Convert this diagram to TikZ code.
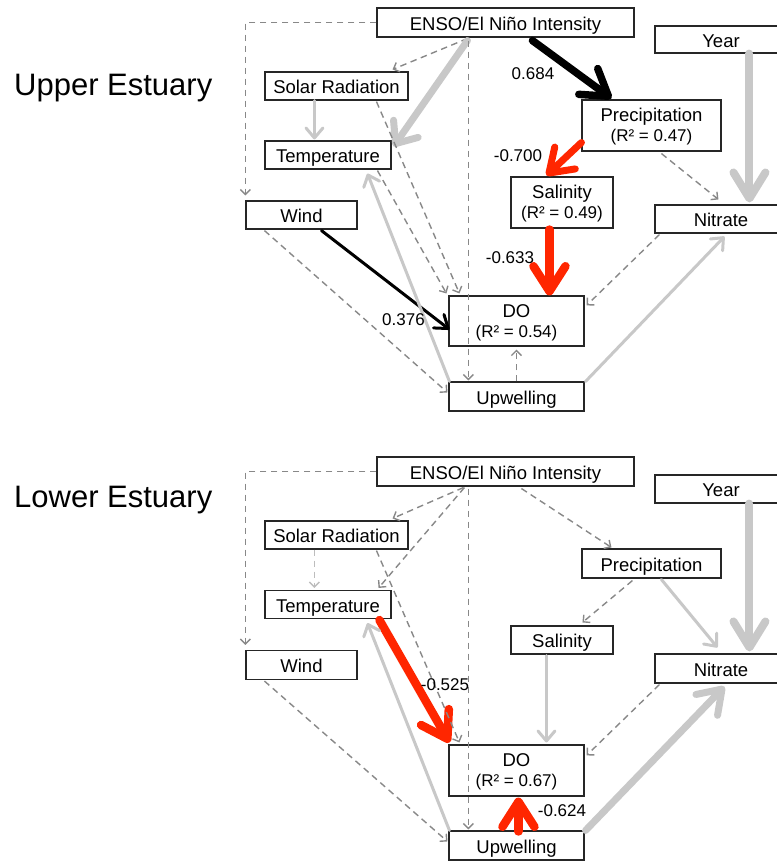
\documentclass[tikz,border=0pt]{standalone}
\usepackage{fontspec}
\setmainfont{Liberation Sans}
\usetikzlibrary{arrows.meta,calc}
\definecolor{dgray}{HTML}{888888}
\definecolor{lgray}{HTML}{C8C8C8}
\definecolor{vlgray}{HTML}{BDBDBD}
\definecolor{pred}{HTML}{FF2600}
\tikzset{
  boxbase/.style={draw=black!85, line width=1.1pt, rectangle, inner sep=0pt, align=center,
              font=\fontsize{18.5}{20}\selectfont},
  box/.style={boxbase, text height=15.6pt, text depth=0pt},
  boxtwo/.style={boxbase},
  lbl/.style={inner sep=0pt, font=\fontsize{17}{20}\selectfont},
  ttl/.style={inner sep=0pt, anchor=base west, font=\fontsize{31}{36}\selectfont},
  dsh/.style={draw=dgray, line width=1.4pt, dash pattern=on 6.5pt off 4.5pt,
              -{Straight Barb[length=5pt,width=10pt]}},
  dshl/.style={dsh, draw=vlgray},
  gthin/.style={draw=lgray, line width=3pt, line cap=round,
              -{Straight Barb[round,length=10pt,width=17pt]}},
  gthick/.style={draw=lgray, line width=7pt, line cap=round,
              -{Straight Barb[round,length=18pt,width=30pt]}},
  gthickb/.style={draw=lgray, line width=7pt, line cap=round,
              -{Straight Barb[round,length=22pt,width=30pt]}},
  gyear/.style={draw=lgray, line width=8pt, line cap=round,
              -{Straight Barb[round,length=26pt,width=32pt]}},
  bthick/.style={draw=black, line width=7.5pt, line cap=round,
              -{Straight Barb[round,length=25pt,width=32pt]}},
  bthin/.style={draw=black, line width=3pt, line cap=round,
              -{Straight Barb[round,length=12pt,width=17pt]}},
  rmid/.style={draw=pred, line width=7pt, line cap=round,
              -{Straight Barb[round,length=22pt,width=30pt]}},
  rthick/.style={draw=pred, line width=8.5pt, line cap=round,
              -{Straight Barb[round,length=25pt,width=32pt]}}
}
\newcommand{\twol}[2]{\rule{0pt}{17.6pt}#1\\{\fontsize{17}{20}\selectfont (R² = #2)\rule[-5pt]{0pt}{5pt}}}
\begin{document}
\begin{tikzpicture}[x=1pt,y=-1pt]
\useasboundingbox (0,0) rectangle (777,863);
\clip (0,0) rectangle (777,863);

% ---------------- Upper estuary ----------------
\node[ttl] (t1) at (14,95) {Upper Estuary};
\node[box, minimum width=257pt, minimum height=29pt] (enso1) at (505.5,22.5) {ENSO/El Niño Intensity};
\node[box, minimum width=132pt, minimum height=27pt] (year1) at (721,39.5) {Year};
\node[box, minimum width=143pt, minimum height=28pt] (solar1) at (336.5,86) {Solar Radiation};
\node[box, minimum width=126pt, minimum height=28pt] (temp1) at (328,155) {Temperature};
\node[box, minimum width=111pt, minimum height=28pt] (wind1) at (301.5,215) {Wind};
\node[boxtwo, minimum width=139pt, minimum height=51pt] (precip1) at (651.5,125.5) {\twol{Precipitation}{0.47}};
\node[boxtwo, minimum width=102pt, minimum height=51pt] (sal1) at (562,202.5) {\twol{Salinity}{0.49}};
\node[box, minimum width=132pt, minimum height=28pt] (nitrate1) at (721,219) {Nitrate};
\node[boxtwo, minimum width=135pt, minimum height=50pt] (do1) at (516.5,321) {\twol{DO}{0.54}};
\node[box, minimum width=135pt, minimum height=29pt] (upw1) at (516.5,396.5) {Upwelling};

\draw[dsh] (enso1.west) -| ($(wind1.north west)+(0,-5)$);
\draw[dsh] ($(enso1.south west)+(91,1)$) -- ($(solar1.north east)+(-16,-2)$);
\draw[gthick] ($(enso1.south west)+(91,3)$) -- ($(temp1.north east)+(2,6)$);
\draw[dsh] ($(enso1.south west)+(92,3)$) -- ($(upw1.north west)+(20,-1)$);
\draw[bthick] ($(enso1.south west)+(156,3)$) -- ($(precip1.north west)+(30,-1)$);
\draw[gyear] ($(year1.south west)+(95,0)$) -- ($(nitrate1.north west)+(95,-2)$);
\draw[rmid] ($(precip1.south west)+(0,-9)$) -- ($(sal1.north west)+(36,-1)$);
\draw[dsh] ($(precip1.south west)+(80,2)$) -- ($(nitrate1.north west)+(64,-5)$);
\draw[rthick] ($(sal1.south west)+(39,1)$) -- ($(do1.north west)+(101,0)$);
\draw[dsh] ($(nitrate1.south west)+(5,1)$) -- ($(do1.north east)+(2,10)$);
\draw[gthin] ($(upw1.north east)+(1,0)$) -- ($(nitrate1.south west)+(70,3)$);
\draw[dsh] ($(upw1.north west)+(68,0)$) -- ($(do1.south west)+(68,3)$);
\draw[bthin] ($(wind1.south west)+(76,1)$) -- ($(do1.north west)+(1,34)$);
\draw[dsh] ($(wind1.south west)+(19,1)$) -- ($(upw1.north west)+(-1,11)$);
\draw[gthin] ($(upw1.north west)+(1,0)$) -- ($(temp1.south west)+(103,4)$);
\draw[gthin] ($(solar1.south west)+(50,0)$) -- ($(temp1.north west)+(50,-1)$);
\draw[dsh] ($(solar1.south west)+(112,1)$) -- ($(do1.north west)+(11,-2)$);
\draw[dsh] ($(temp1.south west)+(113,1)$) -- ($(do1.north west)+(-2,-2)$);

\node[lbl] (l1) at (533,73.5) {0.684};
\node[lbl] (l2) at (518,155.5) {-0.700};
\node[lbl] (l3) at (510,257.5) {-0.633};
\node[lbl] (l4) at (403.5,319.5) {0.376};

% ---------------- Lower estuary ----------------
\node[ttl] (t2) at (14,507) {Lower Estuary};
\node[box, minimum width=257pt, minimum height=29pt] (enso2) at (505.5,471.5) {ENSO/El Niño Intensity};
\node[box, minimum width=132pt, minimum height=28pt] (year2) at (721,489) {Year};
\node[box, minimum width=143pt, minimum height=28pt] (solar2) at (336.5,535) {Solar Radiation};
\node[box, minimum width=126pt, minimum height=28pt] (temp2) at (328,604.5) {Temperature};
\node[box, minimum width=111pt, minimum height=29pt] (wind2) at (301.5,665) {Wind};
\node[box, minimum width=139pt, minimum height=29pt] (precip2) at (651.5,563.5) {Precipitation};
\node[box, minimum width=102pt, minimum height=28pt] (sal2) at (562,640) {Salinity};
\node[box, minimum width=132pt, minimum height=29pt] (nitrate2) at (721,668.5) {Nitrate};
\node[boxtwo, minimum width=135pt, minimum height=51pt] (do2) at (516.5,770.5) {\twol{DO}{0.67}};
\node[box, minimum width=135pt, minimum height=29pt] (upw2) at (516.5,845.5) {Upwelling};

\draw[dsh] (enso2.west) -| ($(wind2.north west)+(0,-5)$);
\draw[dsh] ($(enso2.south west)+(87,1)$) -- ($(solar2.north east)+(-16,-2)$);
\draw[dsh] ($(enso2.south west)+(88,1)$) -- ($(temp2.north east)+(-13,-2)$);
\draw[dsh] ($(enso2.south west)+(92,2)$) -- ($(upw2.north west)+(20,-1)$);
\draw[dsh] ($(enso2.south west)+(145,2)$) -- ($(precip2.north west)+(30,-1)$);
\draw[gyear] ($(year2.south west)+(95,0)$) -- ($(nitrate2.north west)+(95,-2)$);
\draw[dsh] ($(precip2.south west)+(51,2)$) -- ($(sal2.north west)+(72,-3)$);
\draw[gthin] ($(precip2.south west)+(80,1)$) -- ($(nitrate2.north west)+(63,-6)$);
\draw[gthin] ($(sal2.south west)+(36,1)$) -- ($(do2.north west)+(98,-2)$);
\draw[dsh] ($(nitrate2.south west)+(5,1)$) -- ($(do2.north east)+(2,11)$);
\draw[gthickb] ($(upw2.north east)+(1,0)$) -- ($(nitrate2.south west)+(70,3)$);
\draw[rthick] ($(upw2.north west)+(70,1)$) -- ($(do2.south west)+(70,1)$);
\draw[rthick] ($(temp2.south west)+(115,1)$) -- ($(do2.north west)+(1,-2)$);
\draw[dsh] ($(wind2.south west)+(19,1)$) -- ($(upw2.north west)+(-1,11)$);
\draw[gthin] ($(upw2.north west)+(1,0)$) -- ($(temp2.south west)+(103,4)$);
\draw[dshl] ($(solar2.south west)+(50,0)$) -- ($(temp2.north west)+(50,-2)$);
\draw[dsh] ($(solar2.south west)+(112,1)$) -- ($(do2.north west)+(11,-2)$);

\node[lbl] (l5) at (445,685) {-0.525};
\node[lbl] (l6) at (562,811) {-0.624};
\end{tikzpicture}
\end{document}
